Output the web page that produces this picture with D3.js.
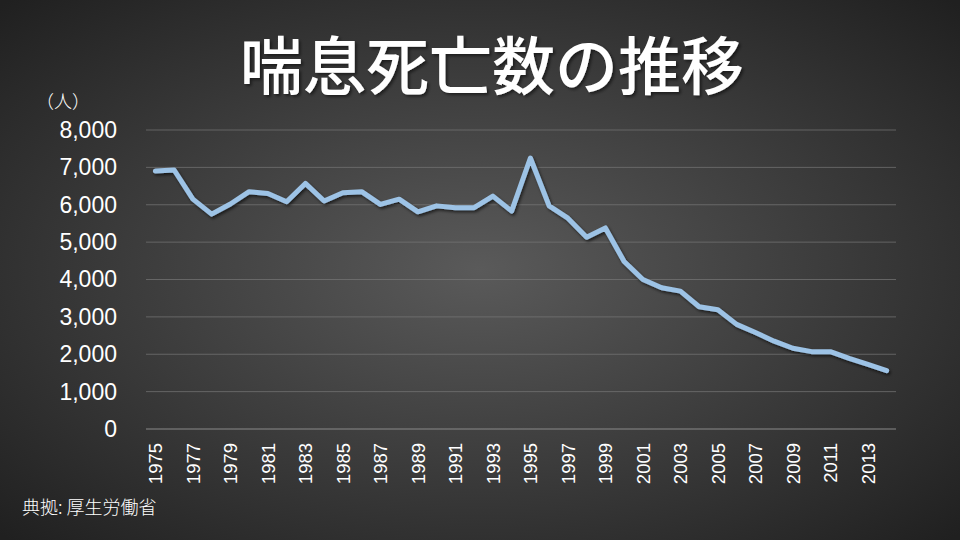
<!DOCTYPE html>
<html><head><meta charset="utf-8">
<script src="https://cdn.jsdelivr.net/npm/d3@7/dist/d3.min.js"></script>
<style>body{margin:0;background:#333}svg{display:block}</style>
</head><body><svg id="c" width="960" height="540"></svg>
<script>
const years = d3.range(1975, 2015);
const deaths = [6900,6930,6150,5750,6020,6350,6300,6080,6570,6100,6320,6350,6010,6150,5810,5970,5920,5920,6230,5830,7250,5970,5640,5130,5380,4480,4000,3780,3690,3270,3190,2800,2580,2350,2160,2070,2070,1890,1730,1560];
const yTicks = [0,1000,2000,3000,4000,5000,6000,7000,8000];
const xTickYears = years.filter((y,i)=>i%2===0);
const title = "喘息死亡数の推移";
const unitLabel = "（人）";
const source = "典拠: 厚生労働省";

const svg = d3.select("#c");
const defs = svg.append("defs");
const rg = defs.append("radialGradient").attr("id","bg").attr("cx","50%").attr("cy","50%").attr("r","70%");
rg.append("stop").attr("offset","0%").attr("stop-color","#5a5a5a");
rg.append("stop").attr("offset","100%").attr("stop-color","#202020");
const sh = defs.append("filter").attr("id","sh").attr("x","-5%").attr("y","-5%").attr("width","110%").attr("height","120%");
sh.append("feDropShadow").attr("dx",1.5).attr("dy",2).attr("stdDeviation",1.5).attr("flood-color","#000").attr("flood-opacity",0.6);
const tsh = defs.append("filter").attr("id","tsh");
tsh.append("feDropShadow").attr("dx",2).attr("dy",2).attr("stdDeviation",1.5).attr("flood-color","#000").attr("flood-opacity",0.5);

svg.append("rect").attr("width",960).attr("height",540).attr("fill","url(#bg)");

const x = d3.scalePoint().domain(years).range([146,896]).padding(0.5);
const y = d3.scaleLinear().domain([0,8000]).range([429,130]);

// grid
svg.append("g").selectAll("line").data(yTicks.slice(1)).join("line")
  .attr("x1",146).attr("x2",896).attr("y1",d=>y(d)).attr("y2",d=>y(d))
  .attr("stroke","#777").attr("stroke-width",1).attr("opacity",0.7);
svg.append("line").attr("x1",146).attr("x2",896).attr("y1",y(0)).attr("y2",y(0))
  .attr("stroke","#8a8a8a").attr("stroke-width",1);

// y axis labels
const yAxis = d3.axisLeft(y).tickValues(yTicks).tickSize(0).tickPadding(0).tickFormat(d3.format(","));
const ga = svg.append("g").attr("transform","translate(117,0)").call(yAxis);
ga.select(".domain").remove();
ga.selectAll("text").attr("fill","#fff").attr("font-size",23)
  .attr("font-family","'Liberation Sans','DejaVu Sans',sans-serif");

// x axis labels
const xAxis = d3.axisBottom(x).tickValues(xTickYears).tickSize(0).tickPadding(0);
const gx = svg.append("g").attr("transform","translate(0,443)").call(xAxis);
gx.select(".domain").remove();
gx.selectAll("text").attr("fill","#fff").attr("font-size",18.5)
  .attr("font-family","'Liberation Sans','DejaVu Sans',sans-serif")
  .attr("transform","rotate(-90)").attr("text-anchor","end")
  .attr("x",0).attr("y",0).attr("dy","0.35em");

// line
const line = d3.line().x((d,i)=>x(years[i])).y(d=>y(d));
svg.append("path").datum(deaths).attr("d",line).attr("fill","none")
  .attr("stroke","#9dc3e6").attr("stroke-width",5).attr("stroke-linejoin","round").attr("stroke-linecap","round")
  .attr("filter","url(#sh)");

// title
svg.append("text").attr("x",492).attr("y",89).attr("text-anchor","middle")
  .attr("fill","#fff").attr("font-size",63).attr("font-weight",500).attr("font-family","'Noto Sans CJK JP',sans-serif")
  .attr("filter","url(#tsh)").text(title);

svg.append("text").attr("x",36).attr("y",108).attr("fill","#fff").attr("font-size",18).attr("font-weight",300)
  .attr("font-family","'Noto Sans CJK JP',sans-serif").text(unitLabel);

svg.append("text").attr("x",22).attr("y",514).attr("fill","#fff").attr("font-size",18).attr("font-weight",300)
  .attr("font-family","'Noto Sans CJK JP',sans-serif").text(source);
</script></body></html>
